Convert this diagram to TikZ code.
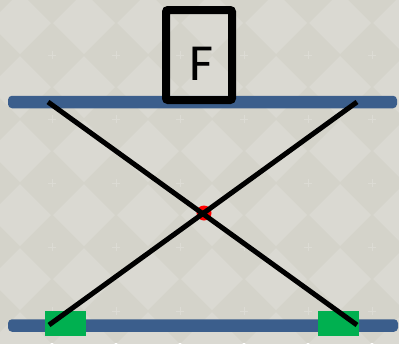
\documentclass[tikz,border=0pt]{standalone}
\usepackage{fontspec}
\newfontfamily\labelfont{Carlito}
\definecolor{tiledark}{RGB}{212,211,202}
\definecolor{tilelight}{RGB}{218,217,210}
\definecolor{sparkle}{RGB}{220,219,212}
\definecolor{railblue}{RGB}{59,94,140}
\definecolor{padgreen}{RGB}{0,176,80}
\tikzset{
  rail/.style={fill=railblue, rounded corners=4pt, inner sep=0pt, minimum height=12.5pt},
  pad/.style={fill=padgreen, inner sep=0pt, minimum width=41pt, minimum height=25pt},
  strut/.style={line width=5pt, black},
  framebox/.style={draw=black, line width=8pt, rounded corners=2pt, inner sep=0pt,
    minimum width=66pt, minimum height=90pt},
  pivotdot/.style={circle, fill=red, inner sep=0pt, minimum size=15pt}
}
\begin{document}
\begin{tikzpicture}[x=1pt,y=-1pt]
\useasboundingbox (0,0) rectangle (399,343);
% tiled backdrop: diamond checker with faint sparkles
\begin{scope}
  \clip (0,0) rectangle (399,343);
  \fill[tiledark] (0,0) rectangle (399,343);
  \foreach \i in {-1,...,6} {
    \foreach \j in {-1,...,5} {
      \pgfmathsetmacro{\cx}{20+64*\i}
      \pgfmathsetmacro{\cy}{23+64*\j}
      \fill[tilelight] (\cx-31,\cy) -- (\cx,\cy-31) -- (\cx+31,\cy) -- (\cx,\cy+31) -- cycle;
      \draw[sparkle, line width=0.7pt] (\cx+32-4,\cy+32) -- (\cx+32+4,\cy+32)
        (\cx+32,\cy+32-4) -- (\cx+32,\cy+32+4);
    }
  }
\end{scope}
% rails
\node[rail, minimum width=389pt] (toprail) at (202.5,102) {};
\node[rail, minimum width=390pt] (botrail) at (203,325.5) {};
% sliding pads on the lower rail
\node[pad] (padL) at (65.5,323.5) {};
\node[pad] (padR) at (338.5,323.5) {};
% pivot
\node[pivotdot] (pivot) at (204,213) {};
% strut end points
\coordinate (topL) at (48,102);
\coordinate (topR) at (357,102);
\coordinate (botL) at (49,325);
\coordinate (botR) at (357,325);
\draw[strut] (topL) -- (botR);
\draw[strut] (topR) -- (botL);
% load box
\node[framebox] (load) at (199,55) {};
\node[inner sep=0pt, font=\labelfont\fontsize{52}{52}\selectfont] (loadlabel) at (201,64) {F};
\end{tikzpicture}
\end{document}
